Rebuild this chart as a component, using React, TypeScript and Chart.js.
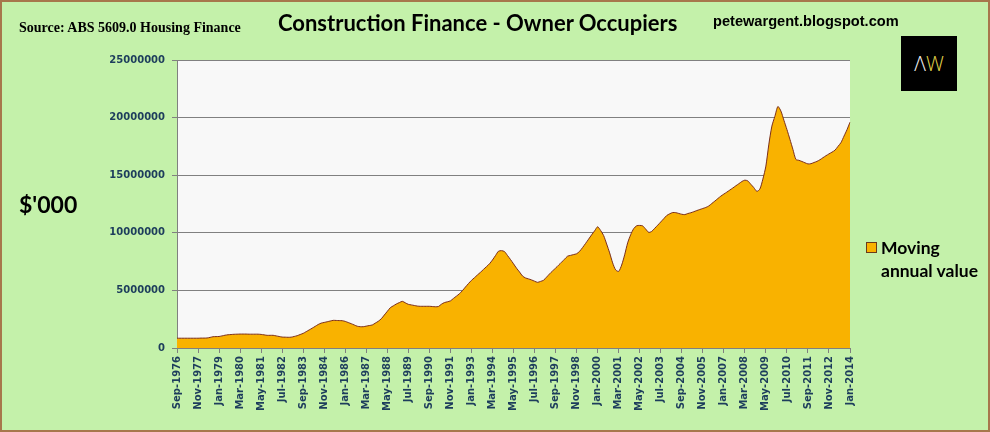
import { useEffect, useRef } from 'react';
import { Chart, registerables } from 'chart.js';

Chart.register(...registerables);

// bi-monthly readings, Sep-1976 .. Jan-2014, in $'000
const START_YEAR = 1976;
const START_MONTH = 8; // Sep
const MONTHS = ['Jan', 'Feb', 'Mar', 'Apr', 'May', 'Jun', 'Jul', 'Aug', 'Sep', 'Oct', 'Nov', 'Dec'];

const movingAnnualValue = [
  850000, 850000, 850000, 850000, 850000, 850000, 850000, 850000, 860000, 860000, 870000,
  920000, 980000, 990000, 1000000, 1050000, 1110000, 1150000, 1170000, 1190000, 1200000,
  1210000, 1210000, 1210000, 1200000, 1200000, 1200000, 1200000, 1180000, 1140000, 1100000,
  1100000, 1100000, 1050000, 1000000, 950000, 940000, 930000, 940000, 1000000, 1070000,
  1170000, 1270000, 1420000, 1570000, 1720000, 1880000, 2040000, 2160000, 2220000, 2280000,
  2340000, 2400000, 2390000, 2380000, 2370000, 2310000, 2210000, 2110000, 2000000, 1890000,
  1850000, 1850000, 1900000, 1950000, 2000000, 2160000, 2320000, 2540000, 2860000, 3180000,
  3500000, 3660000, 3820000, 3940000, 4050000, 3920000, 3790000, 3740000, 3690000, 3640000,
  3620000, 3620000, 3620000, 3620000, 3600000, 3580000, 3600000, 3800000, 3940000, 4010000,
  4090000, 4300000, 4500000, 4710000, 4980000, 5290000, 5590000, 5870000, 6100000, 6340000,
  6570000, 6820000, 7060000, 7310000, 7640000, 8020000, 8400000, 8450000, 8370000, 8030000,
  7680000, 7310000, 6930000, 6600000, 6250000, 6080000, 6000000, 5910000, 5800000, 5700000,
  5780000, 5880000, 6150000, 6430000, 6690000, 6930000, 7190000, 7450000, 7710000, 7970000,
  8040000, 8110000, 8180000, 8390000, 8720000, 9080000, 9450000, 9820000, 10170000, 10520000,
  10200000, 9760000, 9030000, 8260000, 7390000, 6780000, 6650000, 7200000, 8090000, 9130000,
  9830000, 10360000, 10610000, 10640000, 10600000, 10320000, 10040000, 10120000, 10390000, 10660000,
  10940000, 11220000, 11500000, 11650000, 11760000, 11750000, 11680000, 11610000, 11580000, 11670000,
  11740000, 11830000, 11930000, 12020000, 12110000, 12200000, 12330000, 12540000, 12750000, 12970000,
  13180000, 13360000, 13530000, 13710000, 13890000, 14080000, 14260000, 14450000, 14570000, 14500000,
  14210000, 13920000, 13600000, 13800000, 14660000, 15790000, 17700000, 19260000, 20110000, 20960000,
  20570000, 19770000, 18970000, 18120000, 17240000, 16370000, 16290000, 16190000, 16080000, 15980000,
  16000000, 16100000, 16200000, 16340000, 16520000, 16690000, 16850000, 17000000, 17170000, 17500000,
  17830000, 18390000, 18950000, 19600000,
];

const categories = movingAnnualValue.map((_, i) => {
  const m = START_MONTH + i * 2;
  return `${MONTHS[m % 12]}-${START_YEAR + Math.floor(m / 12)}`;
});

// one label every 7th point (14 months)
const xTickLabels = [
  'Sep-1976', 'Nov-1977', 'Jan-1979', 'Mar-1980', 'May-1981', 'Jul-1982', 'Sep-1983',
  'Nov-1984', 'Jan-1986', 'Mar-1987', 'May-1988', 'Jul-1989', 'Sep-1990', 'Nov-1991',
  'Jan-1993', 'Mar-1994', 'May-1995', 'Jul-1996', 'Sep-1997', 'Nov-1998', 'Jan-2000',
  'Mar-2001', 'May-2002', 'Jul-2003', 'Sep-2004', 'Nov-2005', 'Jan-2007', 'Mar-2008',
  'May-2009', 'Jul-2010', 'Sep-2011', 'Nov-2012', 'Jan-2014',
];
const X_TICK_EVERY = 7;

const Y_MIN = 0;
const Y_MAX = 25000000;
const Y_STEP = 5000000;

const GREEN = '#c4f1aa';
const TICK_TEXT = '#1d3d5c';
const GRID = '#808080';

const plotBackground = {
  id: 'plotBackground',
  beforeDraw(chart: Chart) {
    const { ctx, chartArea } = chart;
    ctx.save();
    ctx.fillStyle = '#f8f8f8';
    ctx.fillRect(chartArea.left, chartArea.top, chartArea.right - chartArea.left, chartArea.bottom - chartArea.top);
    ctx.restore();
  },
};

export default function App() {
  const canvasRef = useRef<HTMLCanvasElement>(null);
  const chartRef = useRef<Chart | null>(null);

  useEffect(() => {
    document.body.style.margin = '0';
    if (!canvasRef.current) return;
    if (chartRef.current) chartRef.current.destroy();

    chartRef.current = new Chart(canvasRef.current, {
      type: 'line',
      data: {
        labels: categories,
        datasets: [{
          label: 'Moving annual value',
          data: movingAnnualValue,
          fill: 'origin',
          backgroundColor: '#f9b200',
          borderColor: '#7a2e1c',
          borderWidth: 1,
          pointRadius: 0,
          tension: 0.25,
        }],
      },
      options: {
        animation: false,
        responsive: false,
        layout: { padding: { left: 0, top: 60, right: 140, bottom: 0 } },
        plugins: {
          legend: { display: false },
          tooltip: { enabled: false },
        },
        scales: {
          x: {
            afterFit: (scale: any) => { scale.height = 84; },
            afterBuildTicks: (axis: any) => {
              axis.ticks = axis.ticks.filter((t: any) => t.value % X_TICK_EVERY === 0);
            },
            grid: { drawOnChartArea: false, color: GRID, tickLength: 5 },
            border: { color: GRID },
            ticks: {
              autoSkip: false,
              minRotation: 90,
              maxRotation: 90,
              padding: 3,
              color: TICK_TEXT,
              font: { family: 'DejaVu Sans', size: 10, weight: 'bold' },
              callback: (_v: any, index: number) => xTickLabels[index] ?? '',
            },
          },
          y: {
            min: Y_MIN,
            max: Y_MAX,
            afterFit: (scale: any) => { scale.width = 177; },
            grid: { color: GRID, tickLength: 5 },
            border: { color: GRID },
            ticks: {
              stepSize: Y_STEP,
              padding: 7,
              color: TICK_TEXT,
              font: { family: 'DejaVu Sans', size: 10, weight: 'bold' },
              callback: (v: any) => String(v),
            },
          },
        },
      },
      plugins: [plotBackground],
    });

    return () => {
      if (chartRef.current) {
        chartRef.current.destroy();
        chartRef.current = null;
      }
    };
  }, []);

  return (
    <div style={{ position: 'absolute', left: 0, top: 0, width: 990, height: 432, background: GREEN, boxSizing: 'border-box', border: '2px solid #a7774c', overflow: 'hidden' }}>
      <canvas ref={canvasRef} width={990} height={432} style={{ position: 'absolute', left: -2, top: -2, width: 990, height: 432 }} />
      <div style={{ position: 'absolute', left: 17, top: 18, font: "bold 14px 'Liberation Serif'", color: '#000', whiteSpace: 'nowrap' }}>
        Source: ABS 5609.0 Housing Finance
      </div>
      <div style={{ position: 'absolute', left: 276, top: 7, font: "bold 22px Lato", color: '#000', whiteSpace: 'nowrap' }}>
        Construction Finance - Owner Occupiers
      </div>
      <div style={{ position: 'absolute', left: 711, top: 11, font: "bold 14.6px 'Liberation Sans'", color: '#000', whiteSpace: 'nowrap' }}>
        petewargent.blogspot.com
      </div>
      <div style={{ position: 'absolute', left: 899, top: 34, width: 56, height: 55, background: '#000', display: 'flex', alignItems: 'center', justifyContent: 'center', font: "300 20px 'Open Sans'", letterSpacing: 0 }}>
        <span style={{ color: '#f4f4f4' }}>Λ</span><span style={{ color: '#e3d44a' }}>W</span>
      </div>
      <div style={{ position: 'absolute', left: 17, top: 188, font: "bold 23px Lato", color: '#000', whiteSpace: 'nowrap' }}>
        $'000
      </div>
      <div style={{ position: 'absolute', left: 864, top: 240, width: 9, height: 9, background: '#f9b200', border: '1px solid #6b3a1a' }} />
      <div style={{ position: 'absolute', left: 879, top: 234, font: "bold 17.5px Lato", color: '#000', lineHeight: '23px', whiteSpace: 'nowrap' }}>
        Moving<br />annual value
      </div>
    </div>
  );
}
